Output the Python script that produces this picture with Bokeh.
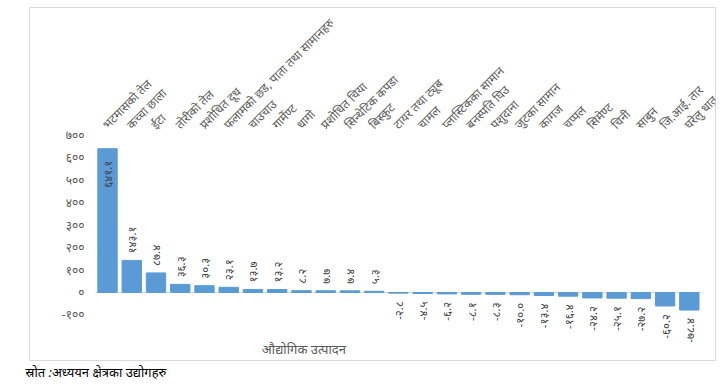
import math
from bokeh.plotting import figure
from bokeh.models import Range1d, Title
from bokeh.core.properties import value
from bokeh.embed import file_html
from bokeh.resources import INLINE

categories = [
    "भटमासको तेल", "कच्चा छाला", "ईंटा", "तोरीको तेल", "प्रशोधित दूध",
    "फलामको छड, पाता तथा सामानहरु", "चाउचाउ", "गार्मेण्ट", "धागो",
    "प्रशोधित चिया", "सिन्थेटिक कपडा", "बिस्कुट", "टायर तथा ट्यूब", "चामल",
    "प्लास्टिकका सामान", "बनस्पति घिउ", "पशुदाना", "जुटका सामान", "कागज",
    "चप्पल", "सिमेण्ट", "चिनी", "साबुन", "जि.आई. तार", "घरेलु धातु",
]
values = [641.1, 143.1, 87.4, 36.3, 30.3, 23.1, 13.7, 13.2, 8.2, 7.7, 7.4, 5.3,
          -2.8, -4.5, -6.2, -8.1, -8.3, -10.0, -13.4, -16.4, -24.2, -25.1, -27.2,
          -60.2, -78.4]
tick_values = [-100, 0, 100, 200, 300, 400, 500, 600, 700]
tick_labels = ["-१००", "०", "१००", "२००", "३००", "४००", "५००", "६००", "७००"]
axis_title = "औद्योगिक उत्पादन"
source_note = "स्रोत :अध्ययन क्षेत्रका उद्योगहरु"

FONT = "Noto Sans"
DIG = str.maketrans("0123456789", "०१२३४५६७८९")
BAR = "#5B9BD5"
GREY = "#595959"

n = len(categories)
x = list(range(1, n + 1))

p = figure(frame_width=686, frame_height=353,
           x_range=Range1d(-2.218, 26.08), y_range=Range1d(-303.2, 1270.7),
           x_axis_location=None, y_axis_location=None,
           output_backend="svg", toolbar_location=None,
           min_border_left=29, min_border_right=2, min_border_top=7, min_border_bottom=0)
p.grid.visible = False
p.outline_line_color = "#D9D9D9"
p.outline_line_width = 1

# zero (category axis) line
p.segment(x0=[0.5], y0=[0], x1=[n + 0.5], y1=[0], line_color="#D9D9D9", line_width=1)

p.vbar(x=x, top=values, width=0.8, color=BAR)

# data labels
labels = [f"{v:.1f}".translate(DIG) for v in values]
inside = [v > 500 for v in values]
aligns = ["right" if (v < 0 or ins) else "left" for v, ins in zip(values, inside)]
yoffs = [8 if v < 0 else (12 if ins else -7) for v, ins in zip(values, inside)]
p.text(x=x, y=values, text=labels, angle=math.pi / 2, text_align=aligns,
       text_baseline="middle", y_offset=yoffs, text_font=value(FONT),
       text_font_size="11.5px", text_color="#404040")

# category labels (above)
cat_y = [tick_values[-1] + 40] * n
p.text(x=x, y=cat_y, text=categories, angle=math.pi / 4, text_align="left",
       text_baseline="middle", x_offset=-3, text_font=value(FONT),
       text_font_size="12px", text_color=GREY)

# value axis labels
p.text(x=[0.5] * len(tick_values), y=tick_values, text=tick_labels,
       text_align="right", text_baseline="middle", x_offset=-11,
       text_font=value(FONT), text_font_size="12px", text_color=GREY)

# axis title
p.text(x=[9.1], y=[-254], text=[axis_title], text_align="center",
       text_baseline="middle", text_font=value(FONT), text_font_size="13px",
       text_color=GREY)

t = Title(text=source_note, align="left", offset=-4, text_font_style="italic",
          text_font_size="13px", text_color="black", text_font=FONT, standoff=1)
p.add_layout(t, "below")

open("out.html", "w").write(file_html(p, INLINE))
